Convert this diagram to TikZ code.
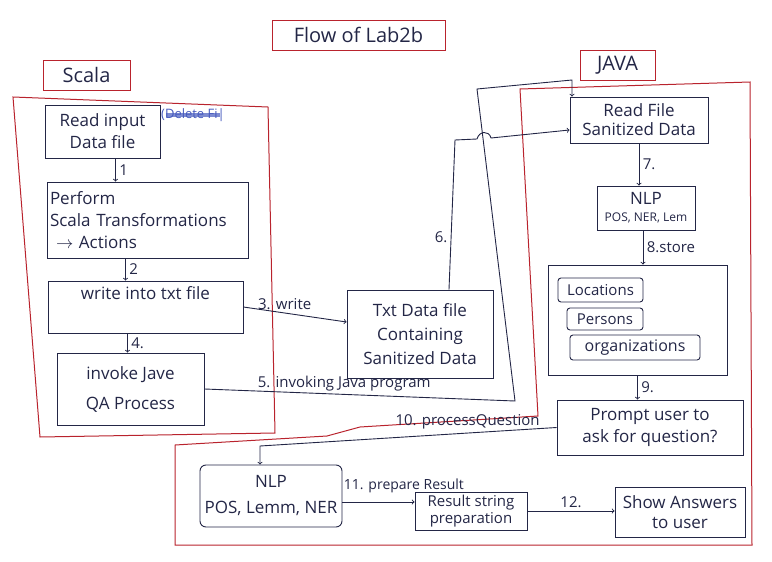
\documentclass[tikz,border=0pt]{standalone}
\usepackage{fontspec}
\setmainfont{Open Sans}
\usetikzlibrary{calc}

\definecolor{ink}{RGB}{35,38,70}
\definecolor{redline}{RGB}{185,35,45}
\definecolor{scribble}{RGB}{70,90,190}

\begin{document}
\begin{tikzpicture}[x=1pt,y=-1pt,
  box/.style={draw=ink,line width=0.9pt,text=ink,align=center,font=\fontsize{17}{22}\selectfont,inner sep=2pt},
  slot/.style={box,rounded corners=3pt,font=\fontsize{15}{18}\selectfont},
  tag/.style={draw=redline,line width=0.9pt,text=ink,font=\fontsize{20}{24}\selectfont,inner sep=3pt},
  flow/.style={draw=ink,line width=0.9pt,->},
  lbl/.style={text=ink,font=\fontsize{15}{18}\selectfont}]
\useasboundingbox (0,0) rectangle (772,562);

% containers
\draw[redline,line width=1pt] (13,97) -- (268,107) -- (275,433) -- (40,437) -- cycle;
\draw[redline,line width=1pt] (520,89) -- (750,82) -- (752,545) -- (175,545) -- (175,445)
  -- (327,436) -- (360,427) -- (538,416) -- cycle;

% headings
\node[tag,minimum width=173,minimum height=30] (title) at (358.5,35) {Flow of Lab2b};
\node[tag,minimum width=87,minimum height=30] (scala) at (86.5,75) {Scala};
\node[tag,minimum width=75,minimum height=30] (java) at (617.5,65) {JAVA};

% scala side
\node[box,minimum width=115,minimum height=53] (read) at (102.5,131.5) {Read input\\Data file};
\node[text=scribble,font=\fontsize{13}{15}\selectfont,anchor=west,inner sep=1pt] (scrib) at (160,115) {(Delete Fi|};
\draw[scribble,line width=4pt,opacity=0.7] ([xshift=6]scrib.west) -- ([xshift=-6]scrib.east);
\node[box,minimum width=201,minimum height=76,text width=195,align=left] (perform) at (147.5,220)
  {Perform\\Scala Transformations\\\hspace*{6pt}$\rightarrow$ Actions};
\node[box,minimum width=195,minimum height=52] (write) at (145.5,307) {write into txt file\\[6pt]};
\node[box,minimum width=147,minimum height=72] (invoke) at (130.5,389) {invoke Jave\\[8pt]QA Process};

% middle
\node[box,minimum width=146,minimum height=88] (txt) at (420,334)
  {Txt Data file\\[2pt]Containing\\[2pt]Sanitized Data};

% java side
\node[box,minimum width=138,minimum height=46] (readf) at (639,120) {Read File\\[-3pt]Sanitized Data};
\node[box,minimum width=98,minimum height=44] (nlpa) at (646,208) {NLP\\[-5pt]{\fontsize{12}{14}\selectfont POS, NER, Lem}};
\node[box,minimum width=179,minimum height=110] (store) at (637.5,320) {};
\node[slot,minimum width=85,minimum height=24] (loc) at (600.5,290) {Locations};
\node[slot,minimum width=76,minimum height=22] (pers) at (605,319) {Persons};
\node[slot,font=\fontsize{16}{18}\selectfont,minimum width=130,minimum height=25] (org) at (635,347.5) {organizations};
\node[box,minimum width=186,minimum height=55] (prompt) at (650,427.5) {Prompt user to\\ask for question?};
\node[box,rounded corners=6pt,minimum width=142,minimum height=62] (nlpb) at (271,496) {NLP\\[4pt]POS, Lemm, NER};
\node[box,font=\fontsize{15}{17}\selectfont,minimum width=112,minimum height=38] (result) at (471,511) {Result string\\preparation};
\node[box,minimum width=130,minimum height=50] (show) at (680,512) {Show Answers\\[-2pt]to user};

% bends
\coordinate (a1) at ([xshift=13]read.south);
\coordinate (a2) at ([xshift=-22]perform.south);
\coordinate (a4) at ([xshift=-18]write.south);
\coordinate (a6) at ([xshift=29]txt.north);
\coordinate (a8) at ([xshift=-3]nlpa.south);
\coordinate (t3) at ([yshift=12]txt.west);
\coordinate (r6) at ([yshift=-10]readf.west);
\coordinate (s1) at (455,140);
\coordinate (s2) at (477,139);
\coordinate (s3) at (491,138);
\coordinate (j1) at (515,401);
\coordinate (j2) at (477,89);
\coordinate (j3) at (572,80);
\coordinate (q1) at (260,446);
\coordinate (p11) at ([yshift=-6]nlpb.east);

% connectors
\draw[flow] (a1) -- (a1 |- perform.north) node[lbl,right,midway] {1};
\draw[flow] (a2) -- (a2 |- write.north) node[lbl,right,midway] {2};
\draw[flow] (a4) -- (a4 |- invoke.north) node[lbl,right,midway] {4.};
\draw[flow] (write.east) -- (t3) node[lbl,above,pos=0.4] {3. write};
\draw[flow] (invoke.east) -- (j1) node[lbl,above,pos=0.45] {5. invoking Java program}
  -- (j2) -- (j3) -- (j3 |- readf.north);
\draw[flow] (a6) -- (s1) node[lbl,left,pos=0.35] {6.} -- (s2) .. controls +(2,-8) and +(-2,-8) .. (s3) -- (r6);
\draw[flow] (readf.south) -- (readf.south |- nlpa.north) node[lbl,right,midway] {7.};
\draw[flow] (a8) -- (a8 |- store.north) node[lbl,right,midway] {8.store};
\draw[flow] (store.south) -- (store.south |- prompt.north) node[lbl,right,midway] {9.};
\draw[flow] (prompt.west) -- (q1) node[lbl,above,pos=0.3] {10. processQuestion} -- (q1 |- nlpb.north);
\draw[flow] (p11) -- (p11 -| result.west) node[lbl,font=\fontsize{14}{16}\selectfont,above right,pos=0,yshift=8pt,inner sep=1pt] {11. prepare Result};
\draw[flow] (result.east) -- (result.east -| show.west) node[lbl,above,midway] {12.};
\end{tikzpicture}
\end{document}
